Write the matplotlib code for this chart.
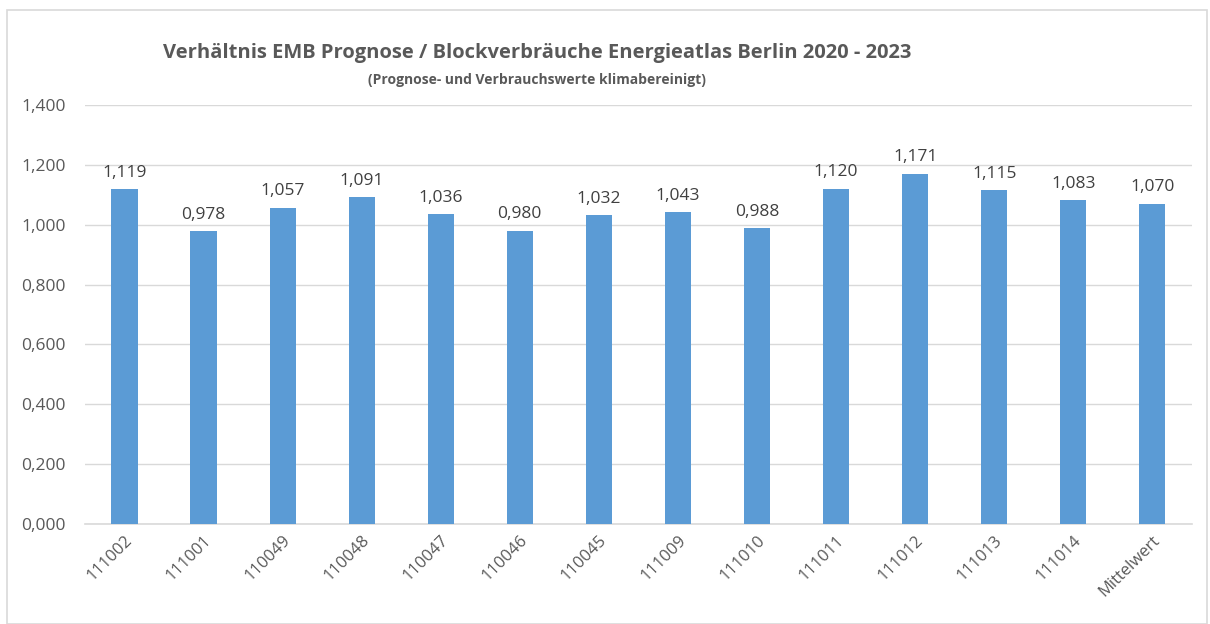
import numpy as np
import matplotlib.pyplot as plt
from matplotlib.patches import Rectangle

plt.rcParams['font.family'] = ['Open Sans', 'DejaVu Sans']

categories = ['111002', '111001', '110049', '110048', '110047', '110046', '110045',
              '111009', '111010', '111011', '111012', '111013', '111014', 'Mittelwert']
values = [1.119, 0.978, 1.057, 1.091, 1.036, 0.980, 1.032,
          1.043, 0.988, 1.120, 1.171, 1.115, 1.083, 1.070]
yticks = [0.0, 0.2, 0.4, 0.6, 0.8, 1.0, 1.2, 1.4]

def de(v):
    return ('%.3f' % v).replace('.', ',')

txt = '#595959'
fig = plt.figure(figsize=(12.1, 6.24), dpi=100)
fig.patches.append(Rectangle((7/1210, 0.0), 1200/1210, 1 - 10/624, transform=fig.transFigure,
                             fill=False, edgecolor='#D9D9D9', linewidth=1.2))
ax = fig.add_axes([0.0702, 0.1603, 0.9148, 0.6714])

x = np.arange(len(categories))
ax.bar(x, values, width=0.33, color='#5B9BD5', zorder=3)
for xi, v in zip(x, values):
    ax.annotate(de(v), (xi, v), xytext=(0, 6), textcoords='offset points',
                ha='center', va='bottom', fontsize=12.5, color='#404040')

ax.set_xlim(-0.5, len(categories) - 0.5)
ax.set_ylim(0, 1.4)
ax.set_yticks(yticks)
ax.set_yticklabels([de(t) for t in yticks], fontsize=12.5, color=txt)
ax.set_xticks(x)
ax.set_xticklabels(categories, rotation=45, ha='right', va='top', rotation_mode='anchor',
                   fontsize=12, color=txt)
ax.tick_params(axis='both', length=0)
ax.tick_params(axis='x', pad=6)
ax.tick_params(axis='y', pad=14)
ax.grid(axis='y', color='#D9D9D9', linewidth=1, zorder=0)
for s in ['top', 'right', 'left']:
    ax.spines[s].set_visible(False)
ax.spines['bottom'].set_color('#D9D9D9')
ax.spines['bottom'].set_linewidth(1.2)

fig.text(537/1210, 1 - 53/624, 'Verhältnis EMB Prognose / Blockverbräuche Energieatlas Berlin 2020 - 2023',
         ha='center', va='center', fontsize=14.5, fontweight='bold', color=txt)
fig.text(537/1210, 1 - 80/624, '(Prognose- und Verbrauchswerte klimabereinigt)',
         ha='center', va='center', fontsize=10, fontweight='bold', color=txt)

fig.savefig('out.png', dpi=100)
